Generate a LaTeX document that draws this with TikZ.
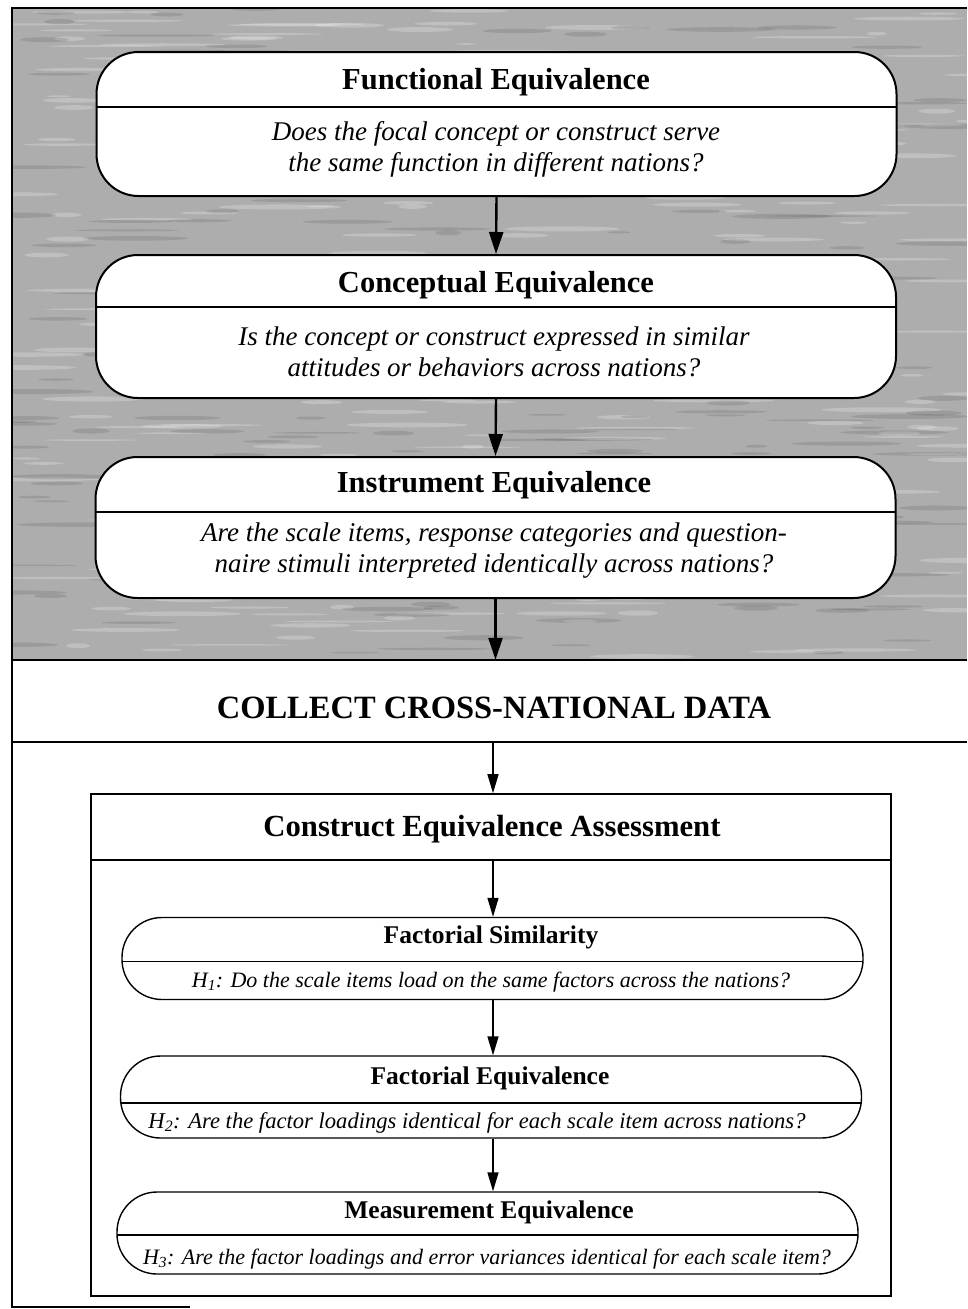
\documentclass[tikz,border=0pt]{standalone}
\usepackage{fontspec}
\setmainfont{Liberation Serif}
\usetikzlibrary{arrows.meta,calc}
\begin{document}
\begin{tikzpicture}[x=1pt,y=-1pt,
  divline/.style={path picture={\draw[line width=1.5pt]
      ([yshift=-#1]path picture bounding box.north west) --
      ([yshift=-#1]path picture bounding box.north east);}},
  bigbox/.style={draw=black, line width=2pt, fill=white, rounded corners=42pt,
      minimum width=800pt, inner sep=0pt, divline=#1},
  smallbox/.style={draw=black, line width=1.4pt, fill=white, rounded corners=40pt,
      minimum width=741pt, minimum height=82pt, inner sep=0pt, divline=#1},
  bigtitle/.style={font=\fontsize{30.5}{33}\selectfont\bfseries, inner sep=0pt},
  bigq/.style={font=\fontsize{27}{31}\selectfont\itshape, align=center, inner sep=0pt},
  smalltitle/.style={font=\fontsize{25.5}{28}\selectfont\bfseries, inner sep=0pt},
  smallq/.style={font=\fontsize{22}{25}\selectfont\itshape, inner sep=0pt},
  thickarrow/.style={line width=2.4pt, -{Triangle[length=22pt,width=14pt]}},
  thinarrow/.style={line width=1.4pt, -{Triangle[length=19pt,width=11pt]}},
  frameline/.style={line width=1.8pt},
  streak/.style={fill=white, opacity=0.22},
  darkstreak/.style={fill=black, opacity=0.10},
]
\useasboundingbox (0,0) rectangle (967,1309);

% shaded upper region with a streaky texture
\fill[black!32] (12,8) rectangle (967,660);
\begin{scope}
  \clip (12,8) rectangle (967,660);
  \pgfmathsetseed{4242}
  \foreach \i in {1,...,260}{
    \pgfmathsetmacro{\sx}{12+rnd*955}
    \pgfmathsetmacro{\sy}{8+rnd*652}
    \pgfmathsetmacro{\sw}{10+rnd*55}
    \pgfmathsetmacro{\sh}{0.8+rnd*1.8}
    \fill[streak] (\sx,\sy) ellipse [x radius=\sw, y radius=\sh];
  }
  \foreach \i in {1,...,220}{
    \pgfmathsetmacro{\sx}{12+rnd*955}
    \pgfmathsetmacro{\sy}{8+rnd*652}
    \pgfmathsetmacro{\sw}{10+rnd*50}
    \pgfmathsetmacro{\sh}{0.8+rnd*1.8}
    \fill[darkstreak] (\sx,\sy) ellipse [x radius=\sw, y radius=\sh];
  }
\end{scope}
\draw[frameline] (967,8) -- (12,8) -- (12,1307) -- (190,1307);
\draw[frameline] (12,660) -- (967,660);
\draw[frameline] (12,742) -- (967,742);

% top boxes
\node[bigbox=55pt, minimum height=144pt] (fe) at (496.5,124) {};
\node[bigtitle] (fet) at (496,82) {Functional Equivalence};
\node[bigq] (feq) at (496,149) {Does the focal concept or construct serve\\the same function in different nations?};

\node[bigbox=52pt, minimum height=143pt] (ce) at (496,326.5) {};
\node[bigtitle] (cet) at (496,285) {Conceptual Equivalence};
\node[bigq] (ceq) at (494,352) {Is the concept or construct expressed in similar\\attitudes or behaviors across nations?};

\node[bigbox=55pt, minimum height=141pt] (ie) at (495.5,527.5) {};
\node[bigtitle] (iet) at (494,485) {Instrument Equivalence};
\node[bigq] (ieq) at (494,551) {Are the scale items, response categories and question-\\naire stimuli interpreted identically across nations?};

\draw[thickarrow] (fe.south) -- (ce.north);
\draw[thickarrow] (ce.south) -- (ie.north);

% collect band
\node[minimum width=955pt, minimum height=82pt, inner sep=0pt] (band) at (489.5,701) {};
\node[font=\fontsize{32.5}{35}\selectfont\bfseries, inner sep=0pt] (bandt) at (494,708) {COLLECT CROSS-NATIONAL DATA};
\draw[thickarrow] (ie.south) -- (ie.south |- band.north);

% construct equivalence assessment box
\node[draw=black, line width=1.6pt, minimum width=800pt, minimum height=502pt, inner sep=0pt] (cea) at (491,1045) {};
\coordinate (ceadiv) at (493,860);
\draw[line width=1.6pt] (cea.west |- ceadiv) -- (cea.east |- ceadiv);
\node[font=\fontsize{30.7}{33}\selectfont\bfseries, inner sep=0pt] (ceat) at (492,829) {Construct Equivalence Assessment};
\draw[thinarrow] (band.south -| ceadiv) -- (cea.north -| ceadiv);

% inner boxes
\node[smallbox=44pt] (fs) at (492.5,958.5) {};
\node[smalltitle] (fst) at (491,937) {Factorial Similarity};
\node[smallq] (fsq) at (491,982) {H\textsubscript{1}: Do the scale items load on the same factors across the nations?};

\node[smallbox=47pt] (fq) at (491,1097) {};
\node[smalltitle] (fqt) at (490,1078) {Factorial Equivalence};
\node[smallq] (fqq) at (477,1123) {\fontsize{22.6}{25}\selectfont H\textsubscript{2}: Are the factor loadings identical for each scale item across nations?};

\node[smallbox=43pt] (me) at (487.5,1233) {};
\node[smalltitle] (met) at (489,1212) {Measurement Equivalence};
\node[smallq] (meq) at (487,1259) {H\textsubscript{3}: Are the factor loadings and error variances identical for each scale item?};

\draw[thinarrow] (ceadiv) -- (ceadiv |- fs.north);
\draw[thinarrow] (fs.south -| ceadiv) -- (fq.north -| ceadiv);
\draw[thinarrow] (fq.south -| ceadiv) -- (me.north -| ceadiv);
\end{tikzpicture}
\end{document}
